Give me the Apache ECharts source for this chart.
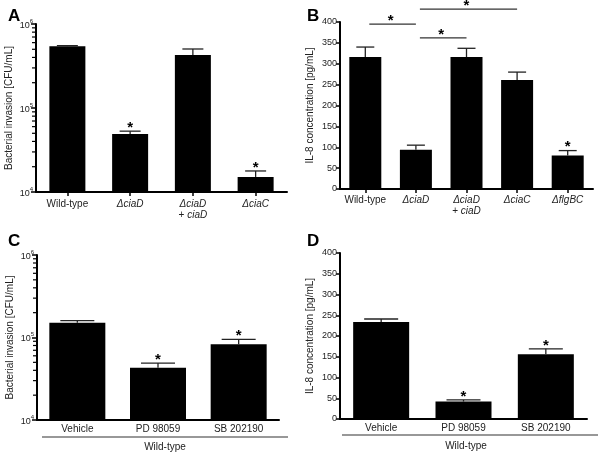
<!DOCTYPE html>
<html><head><meta charset="utf-8">
<script src="https://cdn.jsdelivr.net/npm/echarts@6/dist/echarts.min.js"></script>
<style>html,body{margin:0;padding:0;background:#fff}#c{width:600px;height:453px}</style>
</head><body><div id="c"></div>
<script>
// ---- data ----
const catsA = ['Wild-type', 'ΔciaD', 'ΔciaD\n+ ciaD', 'ΔciaC'];
const valsA = [545000, 49000, 428000, 15100];
const errTopA = [552000, 53000, 504000, 17800];
const starsA = [0, 1, 0, 1];

const catsB = ['Wild-type', 'ΔciaD', 'ΔciaD\n+ ciaD', 'ΔciaC', 'ΔflgBC'];
const valsB = [316, 94, 316, 261, 80];
const errTopB = [340, 105, 337, 280, 92];
const starsB = [0, 0, 0, 0, 1];
const bracketsB = [[0, 1, 395], [1, 2, 362], [1, 3, 431]];

const catsC = ['Vehicle', 'PD 98059', 'SB 202190'];
const valsC = [151000, 43000, 83000];
const errTopC = [160000, 49000, 95000];
const starsC = [0, 1, 1];

const catsD = ['Vehicle', 'PD 98059', 'SB 202190'];
const valsD = [234, 42, 156];
const errTopD = [241, 46, 169];
const starsD = [0, 1, 1];

const logMinor = [2e4, 3e4, 4e4, 5e4, 6e4, 7e4, 8e4, 9e4, 2e5, 3e5, 4e5, 5e5, 6e5, 7e5, 8e5, 9e5];
const groupLabel = 'Wild-type';
const yNameLog = 'Bacterial invasion [CFU/mL]';
const yNameLin = 'IL-8 concentration [pg/mL]';

// ---- chart ----
const FONT = '"Liberation Sans", Arial, sans-serif';
const chart = echarts.init(document.getElementById('c'), null, {renderer: 'canvas'});

const grids = [
  {left: 36, top: 24, width: 251, height: 168},
  {left: 340, top: 22, width: 253, height: 167},
  {left: 37, top: 255, width: 242, height: 165},
  {left: 340, top: 253, width: 247, height: 166}
];

function catFormatter(v) {
  return v.split('\n').map(line => {
    if (line.startsWith('+ ')) return '{n|+ }{i|' + line.slice(2) + '}';
    if (line.startsWith('Δ')) return '{i|' + line + '}';
    return '{n|' + line + '}';
  }).join('\n');
}
const catRich = {
  n: {fontFamily: FONT, fontSize: 10, color: '#222', lineHeight: 11},
  i: {fontFamily: FONT, fontSize: 10, color: '#222', fontStyle: 'italic', lineHeight: 11}
};

function xAxis(idx, cats, ticks, margin) {
  return {
    type: 'category', gridIndex: idx, data: cats,
    axisLine: {show: true, lineStyle: {color: '#000', width: 2}},
    axisTick: {show: ticks, alignWithLabel: true, length: 4, lineStyle: {color: '#000', width: 1.5}},
    axisLabel: {formatter: catFormatter, rich: catRich, margin: margin, interval: 0},
    splitLine: {show: false}
  };
}
function logY(idx) {
  return {
    type: 'log', gridIndex: idx, logBase: 10, min: 1e4, max: 1e6, interval: 1,
    name: yNameLog, nameLocation: 'middle', nameGap: 22,
    nameTextStyle: {fontFamily: FONT, fontSize: 10, color: '#222'},
    axisLine: {show: true, lineStyle: {color: '#000', width: 2}},
    axisTick: {show: true, length: 5, lineStyle: {color: '#000', width: 1.5}},
    axisLabel: {
      margin: 3,
      formatter: v => '{b|10}{s|' + Math.round(Math.log10(v)) + '}',
      rich: {
        b: {fontFamily: FONT, fontSize: 9, color: '#222', lineHeight: 12, verticalAlign: 'bottom'},
        s: {fontFamily: FONT, fontSize: 6, color: '#222', verticalAlign: 'top', lineHeight: 12}
      }
    },
    splitLine: {show: false}
  };
}
function linY(idx) {
  return {
    type: 'value', gridIndex: idx, min: 0, max: 400, interval: 50,
    name: yNameLin, nameLocation: 'middle', nameGap: 25,
    nameTextStyle: {fontFamily: FONT, fontSize: 10, color: '#222'},
    axisLine: {show: true, lineStyle: {color: '#000', width: 2}},
    axisTick: {show: true, length: 4, lineStyle: {color: '#000', width: 1.5}},
    axisLabel: {margin: 3, fontFamily: FONT, fontSize: 9, color: '#222'},
    splitLine: {show: false}
  };
}

function bars(idx, vals, w) {
  return {type: 'bar', xAxisIndex: idx, yAxisIndex: idx, data: vals, barWidth: w,
    itemStyle: {color: '#000'}, silent: true, animation: false};
}
function errSeries(idx, vals, tops, stars, capW) {
  return {
    type: 'custom', xAxisIndex: idx, yAxisIndex: idx, z: 5, animation: false, silent: true, clip: false,
    data: tops.map((t, i) => [i, t, vals[i], stars[i]]),
    renderItem: (params, api) => {
      const i = api.value(0);
      const top = api.coord([i, api.value(1)]);
      const base = api.coord([i, api.value(2)]);
      const ch = [
        {type: 'line', shape: {x1: top[0], y1: base[1], x2: top[0], y2: top[1]}, style: {stroke: '#222', lineWidth: 1.3}},
        {type: 'line', shape: {x1: top[0] - capW / 2, y1: top[1], x2: top[0] + capW / 2, y2: top[1]}, style: {stroke: '#222', lineWidth: 1.3}}
      ];
      if (api.value(3)) {
        ch.push({type: 'text', style: {text: '*', x: top[0], y: top[1] + 4, align: 'center', verticalAlign: 'bottom',
          font: 'bold 15px ' + FONT, fill: '#000'}});
      }
      return {type: 'group', children: ch};
    }
  };
}
function minorTicks(idx) {
  return {
    type: 'custom', xAxisIndex: idx, yAxisIndex: idx, z: 6, animation: false, silent: true, clip: false,
    data: logMinor.map(v => [0, v]),
    renderItem: (params, api) => {
      const p = api.coord([0, api.value(1)]);
      const x = params.coordSys.x;
      return {type: 'line', shape: {x1: x - 4, y1: p[1], x2: x, y2: p[1]}, style: {stroke: '#000', lineWidth: 1.2}};
    }
  };
}
function bracketSeries(idx, brs) {
  return {
    type: 'custom', xAxisIndex: idx, yAxisIndex: idx, animation: false, silent: true, clip: false,
    data: brs,
    renderItem: (params, api) => {
      const a = api.coord([api.value(0), api.value(2)]);
      const b = api.coord([api.value(1), api.value(2)]);
      return {type: 'group', children: [
        {type: 'line', shape: {x1: a[0] + 4, y1: a[1], x2: b[0], y2: b[1]}, style: {stroke: '#333', lineWidth: 1.2}},
        {type: 'text', style: {text: '*', x: (a[0] + b[0]) / 2, y: a[1] + 4, align: 'center', verticalAlign: 'bottom',
          font: 'bold 15px ' + FONT, fill: '#000'}}
      ]};
    }
  };
}

const letters = ['A', 'B', 'C', 'D'];
const letterPos = [[3, 3], [302, 3], [3, 228], [302, 228]];

chart.setOption({
  animation: false,
  backgroundColor: '#fff',
  title: letters.map((t, i) => ({text: t, left: letterPos[i][0], top: letterPos[i][1],
    textStyle: {fontFamily: FONT, fontSize: 17, fontWeight: 'bold', color: '#000'}})),
  grid: grids,
  xAxis: [xAxis(0, catsA, true, 7), xAxis(1, catsB, true, 6), xAxis(2, catsC, false, 4), xAxis(3, catsD, false, 4)],
  yAxis: [logY(0), linY(1), logY(2), linY(3)],
  series: [
    bars(0, valsA, 36), errSeries(0, valsA, errTopA, starsA, 21), minorTicks(0),
    bars(1, valsB, 32), errSeries(1, valsB, errTopB, starsB, 18), bracketSeries(1, bracketsB),
    bars(2, valsC, 56), errSeries(2, valsC, errTopC, starsC, 34), minorTicks(2),
    bars(3, valsD, 56), errSeries(3, valsD, errTopD, starsD, 34)
  ],
  graphic: [
    {type: 'line', shape: {x1: 42, y1: 437, x2: 288, y2: 437}, style: {stroke: '#333', lineWidth: 1.2}},
    {type: 'text', style: {text: groupLabel, x: 165, y: 447, align: 'center', verticalAlign: 'middle', font: '10px ' + FONT, fill: '#222'}},
    {type: 'line', shape: {x1: 342, y1: 435, x2: 598, y2: 435}, style: {stroke: '#333', lineWidth: 1.2}},
    {type: 'text', style: {text: groupLabel, x: 466, y: 446, align: 'center', verticalAlign: 'middle', font: '10px ' + FONT, fill: '#222'}}
  ]
});
</script></body></html>
